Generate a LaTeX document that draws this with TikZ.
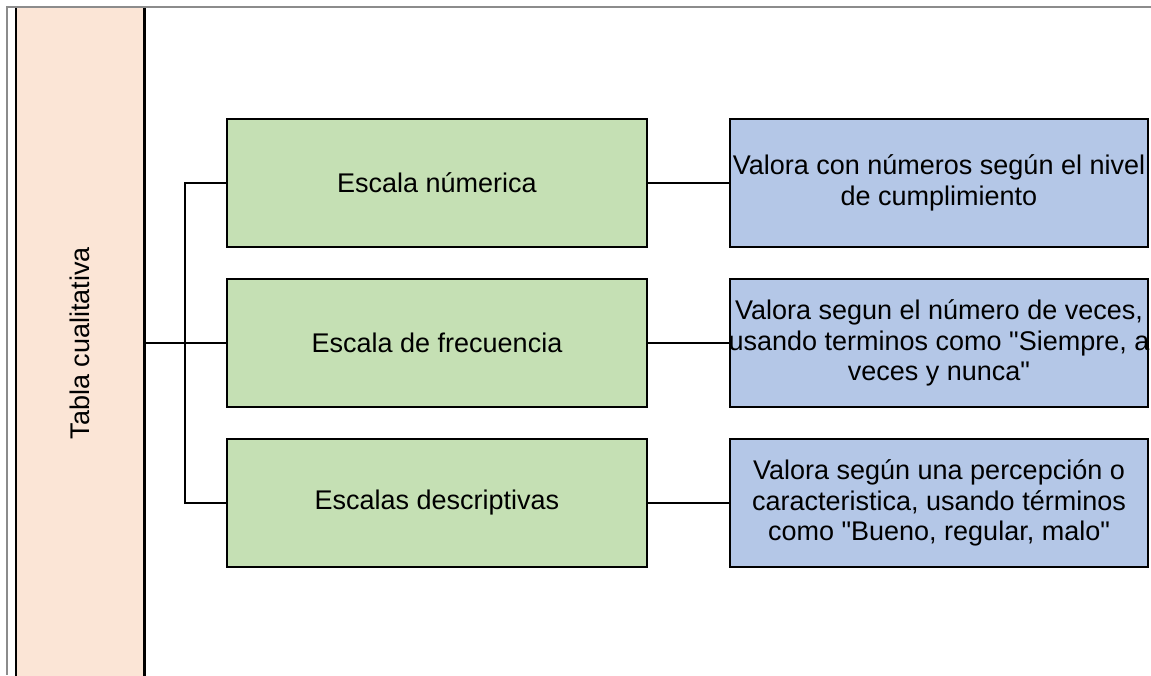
\documentclass[tikz,border=0pt]{standalone}
\usepackage{fontspec}
\setmainfont{Liberation Sans}
\definecolor{peachfill}{HTML}{FBE5D6}
\definecolor{greenfill}{HTML}{C5E0B4}
\definecolor{bluefill}{HTML}{B4C7E7}
\definecolor{framegray}{HTML}{8C8C8C}
\tikzset{
  txt/.style={font=\fontsize{27}{30.5}\selectfont},
  greenbox/.style={txt, draw=black, line width=2.4pt, fill=greenfill, minimum width=420pt, minimum height=128pt, inner sep=0pt, align=center},
  bluebox/.style={txt, draw=black, line width=2.4pt, fill=bluefill, minimum width=418pt, minimum height=128pt, inner ysep=0pt, inner xsep=-6pt, align=center},
  peachbox/.style={fill=peachfill, minimum width=128pt, minimum height=672pt, inner sep=0pt},
  peachedge/.style={draw=black, line width=2.6pt},
  conn/.style={draw=black, line width=2pt},
  frameline/.style={draw=framegray, line width=1.6pt}
}
\begin{document}
\begin{tikzpicture}[x=1pt, y=-1pt]
\useasboundingbox (0,0) rectangle (1151,675);
\begin{scope}
\clip (0,0) rectangle (1151,675);
\node[peachbox] (tabla) at (80,343) {};
\draw[peachedge] (tabla.north west) -- (tabla.south west);
\draw[peachedge] (tabla.north east) -- (tabla.south east);
\node[txt, rotate=90] (tablalabel) at (tabla.center) {Tabla cualitativa};
\coordinate (ftl) at (7,7);
\coordinate (ftr) at (1151,7);
\coordinate (fbl) at (7,675);
\draw[frameline] (ftr) -- (ftl) -- (fbl);
\end{scope}

\node[greenbox] (g1) at (437,183) {Escala númerica};
\node[greenbox] (g2) at (437,343) {Escala de frecuencia};
\node[greenbox] (g3) at (437,503) {Escalas descriptivas};

\node[bluebox] (b1) at (939,183) {Valora con números según el nivel\\de cumplimiento};
\node[bluebox] (b2) at (939,343) {Valora segun el número de veces,\\usando terminos como \textquotedbl Siempre, a\\veces y nunca\textquotedbl};
\node[bluebox] (b3) at (939,503) {Valora según una percepción o\\caracteristica, usando términos\\como \textquotedbl Bueno, regular, malo\textquotedbl};

\draw[conn] (tabla.east) -- (g2.west);
\draw[conn] (g1.west) -- ++(-41,0) |- (g3.west);
\draw[conn] (g1.east) -- (b1.west);
\draw[conn] (g2.east) -- (b2.west);
\draw[conn] (g3.east) -- (b3.west);
\end{tikzpicture}
\end{document}
